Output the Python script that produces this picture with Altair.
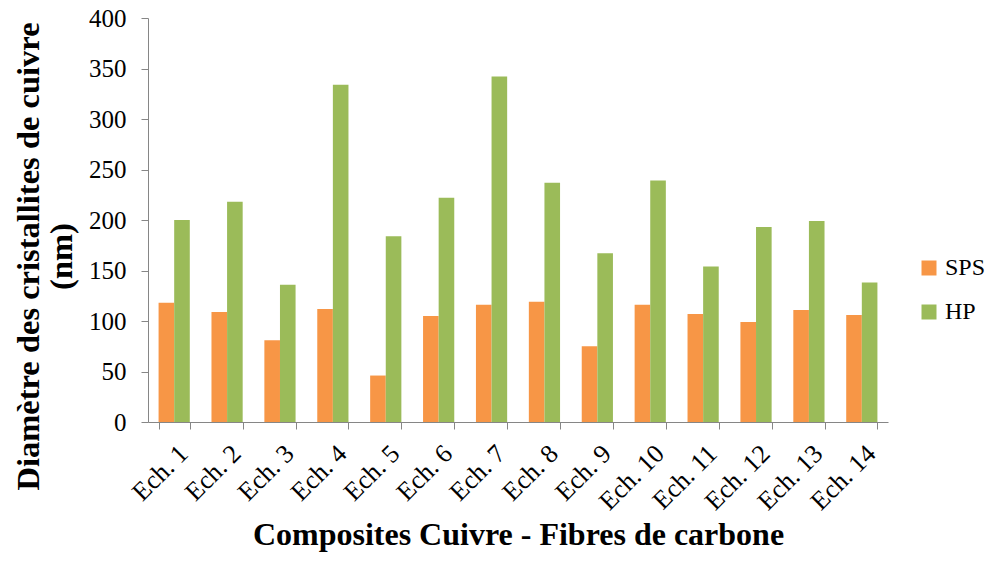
import altair as alt
import pandas as pd

categories = [f"Ech. {i}" for i in range(1, 15)]
sps = [118, 109, 81, 112, 46, 105, 116, 119, 75, 116, 107, 99, 111, 106]
hp = [200, 218, 136, 334, 184, 222, 342, 237, 167, 239, 154, 193, 199, 138]
series = ["SPS", "HP"]
colors = ["#F79646", "#9BBB59"]

rows = []
for c, a, b in zip(categories, sps, hp):
    rows.append({"cat": c, "serie": "SPS", "val": a})
    rows.append({"cat": c, "serie": "HP", "val": b})
df = pd.DataFrame(rows)

FONT = "Liberation Serif"

chart = alt.Chart(df).mark_bar().encode(
    x=alt.X("cat:N", sort=categories,
            scale=alt.Scale(paddingInner=0.41, paddingOuter=0.2),
            axis=alt.Axis(title="Composites Cuivre - Fibres de carbone",
                          labelAngle=-45, tickBand="extent", tickSize=7,
                          labelFontSize=26, titleFontSize=32,
                          titleY=122, titleBaseline="alphabetic",
                          labelPadding=11)),
    xOffset=alt.XOffset("serie:N", sort=series),
    y=alt.Y("val:Q", scale=alt.Scale(domain=[0, 400]),
            axis=alt.Axis(values=list(range(0, 401, 50)), tickSize=7,
                          title=["Diamètre des cristallites de cuivre", "(nm)"],
                          labelFontSize=25, titleFontSize=32.5,
                          titleX=-103, titleY=238, titleBaseline="bottom",
                          titleLineHeight=33, labelPadding=15)),
    color=alt.Color("serie:N", sort=series,
                    scale=alt.Scale(domain=series, range=colors),
                    legend=alt.Legend(title=None, orient="none", legendX=769, legendY=238,
                                      symbolType="square", symbolSize=225,
                                      labelFontSize=24, rowPadding=20, labelOffset=4,
                                      symbolStrokeWidth=0)),
).properties(
    width=740, height=404,
    autosize=alt.AutoSizeParams(type="none"),
    padding={"left": 140, "top": 10, "right": 99, "bottom": 132},
).configure_axis(
    labelFont=FONT, titleFont=FONT, titleFontWeight="bold",
    labelColor="black", titleColor="black",
    domainColor="#868686", tickColor="#868686", grid=False,
).configure_legend(labelFont=FONT, labelColor="black").configure_view(stroke=None)

chart.save("out.html", embed_options={"renderer": "svg", "actions": False})
